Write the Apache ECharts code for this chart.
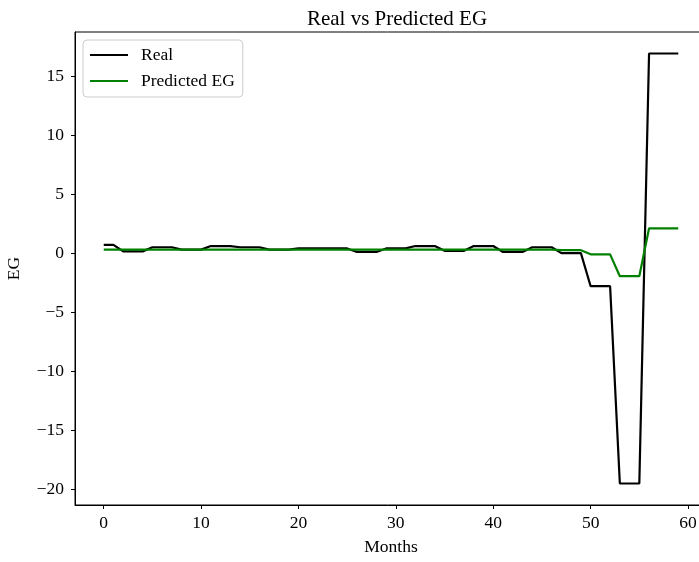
<!DOCTYPE html>
<html><head><meta charset="utf-8">
<script src="https://cdn.jsdelivr.net/npm/echarts@6/dist/echarts.min.js"></script>
<style>html,body{margin:0;padding:0;background:#fff}#c{width:699px;height:562px}</style>
</head><body><div id="c"></div>
<script>
const months = Array.from({length:60},(_, i)=>i);
const realEG = [0.7,0.7,0.15,0.15,0.15,0.5,0.5,0.5,0.3,0.3,0.3,0.6,0.6,0.6,0.5,0.5,0.5,0.3,0.3,0.3,
  0.4,0.4,0.4,0.4,0.4,0.4,0.1,0.1,0.1,0.4,0.4,0.4,0.6,0.6,0.6,0.2,0.2,0.2,0.6,0.6,
  0.6,0.1,0.1,0.1,0.5,0.5,0.5,0.0,0.0,0.0,-2.8,-2.8,-2.8,-19.5,-19.5,-19.5,16.9,16.9,16.9,16.9];
const predEG = [0.3,0.3,0.3,0.3,0.3,0.3,0.3,0.3,0.3,0.3,0.3,0.3,0.3,0.3,0.3,0.3,0.3,0.3,0.3,0.3,
  0.3,0.3,0.3,0.3,0.3,0.3,0.3,0.3,0.3,0.3,0.3,0.3,0.3,0.3,0.3,0.3,0.3,0.3,0.3,0.3,
  0.3,0.3,0.3,0.3,0.3,0.3,0.3,0.25,0.25,0.25,-0.1,-0.1,-0.1,-1.95,-1.95,-1.95,2.1,2.1,2.1,2.1];
const xTicks = [0,10,20,30,40,50,60];
const yTicks = [-20,-15,-10,-5,0,5,10,15];
const FONT = '"Liberation Serif", "DejaVu Serif", serif';
const fmt = v => String(v).replace('-', '\u2212');
const chart = echarts.init(document.getElementById('c'), null, {renderer:'canvas'});
chart.setOption({
  animation:false,
  backgroundColor:'#fff',
  title:{text:'Real vs Predicted EG', left:392, textAlign:'center', top:4,
    textStyle:{fontFamily:FONT, fontWeight:'normal', fontSize:21, color:'#000'}},
  grid:{left:75, top:32, right:-8, bottom:57, containLabel:false, outerBoundsMode:'none',
    show:true, borderColor:'#000', borderWidth:1, backgroundColor:'transparent'},
  legend:{left:83, top:40, orient:'vertical', itemWidth:38, itemHeight:2, itemGap:6,
    icon:'rect', padding:[5,8,6,7], borderColor:'#cccccc', borderWidth:1, borderRadius:4, backgroundColor:'#fff',
    textStyle:{fontFamily:FONT, fontSize:17.5, lineHeight:20, color:'#000', padding:[0,0,0,8]},
    data:['Real','Predicted EG']},
  xAxis:{type:'value', min:-2.95, max:61.95, name:'Months', nameLocation:'middle', nameGap:33,
    nameTextStyle:{fontFamily:FONT, fontSize:17.5, color:'#000'},
    axisLine:{show:true, onZero:false, lineStyle:{color:'#000', width:1}},
    axisTick:{show:true, length:4, customValues:xTicks, lineStyle:{color:'#000'}},
    axisLabel:{customValues:xTicks, fontFamily:FONT, fontSize:17.5, color:'#000', margin:9, formatter:fmt},
    splitLine:{show:false}},
  yAxis:{type:'value', min:-21.32, max:18.72, name:'EG', nameLocation:'middle', nameGap:52, nameRotate:90,
    nameTextStyle:{fontFamily:FONT, fontSize:17.5, color:'#000'},
    axisLine:{show:true, onZero:false, lineStyle:{color:'#000', width:1}},
    axisTick:{show:true, length:4, customValues:yTicks, lineStyle:{color:'#000'}},
    axisLabel:{customValues:yTicks, fontFamily:FONT, fontSize:17.5, color:'#000', margin:11, formatter:fmt},
    splitLine:{show:false}},
  series:[
    {name:'Real', type:'line', data:months.map((m,i)=>[m, realEG[i]]), showSymbol:false, symbol:'none',
      lineStyle:{color:'#000', width:2.2}, itemStyle:{color:'#000'}},
    {name:'Predicted EG', type:'line', data:months.map((m,i)=>[m, predEG[i]]), showSymbol:false, symbol:'none',
      lineStyle:{color:'#008000', width:2.2}, itemStyle:{color:'#008000'}}
  ]
});
</script></body></html>
